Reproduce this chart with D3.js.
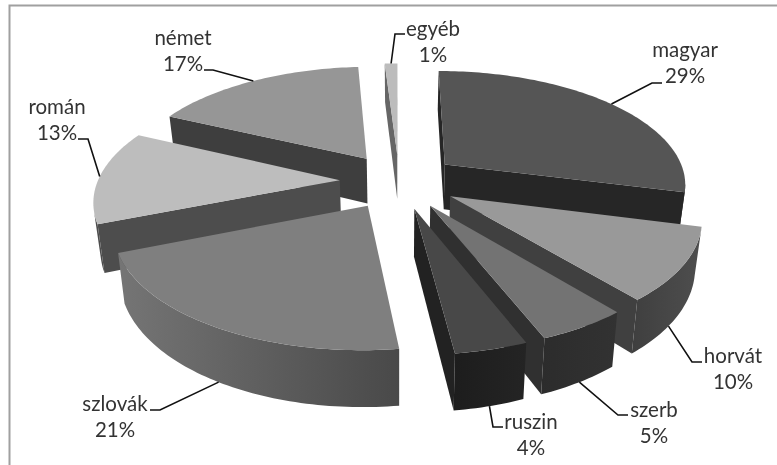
<!DOCTYPE html>
<html>
<head>
<meta charset="utf-8">
<script src="https://cdn.jsdelivr.net/npm/d3@7"></script>
<style>
html, body { margin: 0; background: #fff; }
svg { filter: blur(0.4px); }
text { font-family: Lato, "Open Sans", sans-serif; font-size: 20.5px; fill: #333; text-anchor: middle; }
</style>
</head>
<body>
<script>
var categories = ['magyar', 'horvát', 'szerb', 'ruszin', 'szlovák', 'román', 'német', 'egyéb'];
var values = [29, 10, 5, 4, 21, 13, 17, 1];

var topColors = ['#555555', '#999999', '#737373', '#484848', '#7f7f7f', '#bdbdbd', '#969696', '#bcbcbc'];
var cutColors = ['#262626', '#404040', '#303030', '#222222', '#4a4a4a', '#4d4d4d', '#3e3e3e', '#666666'];
var wallFrom = ['#262626', '#3f3f3f', '#2c2c2c', '#1d1d1d', '#757575', '#4d4d4d', '#3e3e3e', '#666666'];
var wallTo = ['#262626', '#4e4e4e', '#323232', '#242424', '#494949', '#4d4d4d', '#3e3e3e', '#666666'];

// where each leader leaves the rim (share of the slice), its elbow and end, and the label centre
var leaderShare = [0.5, 0.62, 0.5, 0.5, 0.5, 0.5, 0.5, 0.5];
var leaderElbow = [[652, 83], [692, 362], [618, 415], [493, 427], [160, 410], [88, 139], [213, 70], [395, 34]];
var leaderEnd = [[662, 83], [702, 362], [628, 415], [503, 427], [150, 410], [78, 139], [204, 70], [405, 34]];
var labelAt = [[685, 50], [733, 356], [654, 410], [531, 422], [115, 404], [57, 107], [183, 38], [433, 29]];

var width = 777,
	height = 465,
	explode = 0.245,
	perspective = 0.158,
	thickness = 46,
	shrink = 0.023;

var xScale = d3.scaleLinear().domain([-1, 1]).range([399 - 242, 399 + 242]);
var yScale = d3.scaleLinear().domain([-1, 1]).range([181 + 113, 181 - 113]);
var line = d3.line();

var svg = d3.select('body').append('svg')
	.attr('width', width)
	.attr('height', height)
	.style('display', 'block');

// frame of the pasted picture
svg.append('path')
	.attr('d', line([[9.5, height], [9.5, 5.5], [width, 5.5]]))
	.attr('fill', 'none')
	.attr('stroke', '#a0a0a0')
	.attr('stroke-width', 2);

var defs = svg.append('defs');

var arcs = d3.pie().sort(null).value(function(d){ return d })(values);

// ground point of a slice -> screen; level 0 is the top face, 1 the bottom
function project(d, angle, radius, level){
	var mid = (d.startAngle + d.endAngle) / 2;
	var wx = radius * Math.sin(angle) + explode * Math.sin(mid);
	var wy = radius * Math.cos(angle) + explode * Math.cos(mid);
	var w = 1 + perspective * wy;
	var sx = xScale(wx / w);
	var sy = yScale(wy / w);
	if (level) {
		sx = xScale(0) + (sx - xScale(0)) * (1 - shrink);
		sy = sy + thickness / w;
	}
	return [sx, sy];
}

function rim(d, from, to, level){
	var n = Math.max(2, Math.ceil((to - from) / 0.02));
	return d3.range(n + 1).map(function(i){
		return project(d, from + (to - from) * i / n, 1, level);
	});
}

function cutFace(d, angle){
	return [project(d, angle, 0, 0), project(d, angle, 1, 0), project(d, angle, 1, 1), project(d, angle, 0, 1)];
}

var wallFirst = 100 * Math.PI / 180,
	wallLast = 255 * Math.PI / 180;

// paint far slices first
var order = d3.range(arcs.length).sort(function(a, b){
	var ma = (arcs[a].startAngle + arcs[a].endAngle) / 2;
	var mb = (arcs[b].startAngle + arcs[b].endAngle) / 2;
	return Math.cos(mb) - Math.cos(ma);
});

order.forEach(function(i){
	var d = arcs[i];
	var g = svg.append('g').attr('class', 'slice');

	var start = cutFace(d, d.startAngle);
	var end = cutFace(d, d.endAngle);
	if (d3.polygonArea(start) > 0) {
		g.append('path').attr('d', line(start) + 'Z').attr('fill', cutColors[i]);
	}
	if (d3.polygonArea(end) < 0) {
		g.append('path').attr('d', line(end) + 'Z').attr('fill', cutColors[i]);
	}

	var from = Math.max(d.startAngle, wallFirst);
	var to = Math.min(d.endAngle, wallLast);
	if (to > from) {
		var grad = defs.append('linearGradient').attr('id', 'wall' + i);
		grad.append('stop').attr('offset', '0%').attr('stop-color', wallFrom[i]);
		grad.append('stop').attr('offset', '100%').attr('stop-color', wallTo[i]);
		var outline = rim(d, from, to, 0).concat(rim(d, from, to, 1).reverse());
		g.append('path').attr('d', line(outline) + 'Z').attr('fill', 'url(#wall' + i + ')');
	}

	var top = [project(d, 0, 0, 0)].concat(rim(d, d.startAngle, d.endAngle, 0));
	g.append('path').attr('d', line(top) + 'Z').attr('fill', topColors[i]);
});

// leaders and labels
arcs.forEach(function(d, i){
	var a = d.startAngle + (d.endAngle - d.startAngle) * leaderShare[i];
	svg.append('path')
		.attr('d', line([project(d, a, 1, a > wallFirst && a < wallLast ? 1 : 0), leaderElbow[i], leaderEnd[i]]))
		.attr('fill', 'none')
		.attr('stroke', '#111')
		.attr('stroke-width', 1.6);
	var t = svg.append('text').attr('x', labelAt[i][0]).attr('y', labelAt[i][1] + 7);
	t.append('tspan').attr('x', labelAt[i][0]).text(categories[i]);
	t.append('tspan').attr('x', labelAt[i][0]).attr('dy', 25.5).text(values[i] + '%');
});
</script>
</body>
</html>
